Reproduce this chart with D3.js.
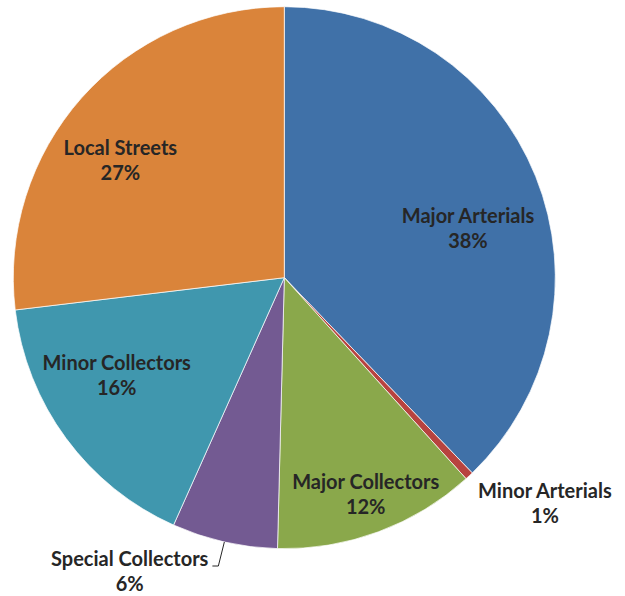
<!DOCTYPE html>
<html>
<head>
<meta charset="utf-8">
<script src="https://cdn.jsdelivr.net/npm/d3@7"></script>
<style>
  html, body { margin: 0; padding: 0; background: #fff; }
  svg { display: block; }
  .lbl { font-family: "Lato", "Open Sans", sans-serif; font-weight: 700; font-size: 20px; fill: #262626; }
</style>
</head>
<body>
<svg id="chart" width="625" height="596"></svg>
<script>
// Share of road network by functional class (percent)
const categories = ["Major Arterials", "Minor Arterials", "Major Collectors", "Special Collectors", "Minor Collectors", "Local Streets"];
const shares = [37.8, 0.5, 12.1, 6.3, 16.4, 26.9];
const shareLabels = ["38%", "1%", "12%", "6%", "16%", "27%"];
const colors = ["#4071A8", "#B8433F", "#8AA84B", "#735A92", "#4097AE", "#DA843A"];

// Label placement: distance from centre (fraction of radius) and angle (degrees, clockwise from top)
const labelRadius = [0.695, 1.29, 0.878, 1.248, 0.730, 0.728];
const labelAngle  = [77.2, 131.8, 160.0, 207.2, 237.9, 303.8];
const leader = [false, false, false, true, false, false];

const width = 625, height = 596;
const cx = 284.3, cy = 277.7, radius = 271;
const lineGap = 25;

const svg = d3.select("#chart");
const g = svg.append("g").attr("transform", `translate(${cx},${cy})`);

const pie = d3.pie().sort(null).value(d => d.value);
const arcs = pie(categories.map((c, i) => ({ name: c, value: shares[i], label: shareLabels[i], i })));
const arc = d3.arc().innerRadius(0).outerRadius(radius);

g.selectAll("path.slice")
  .data(arcs)
  .join("path")
  .attr("class", "slice")
  .attr("d", arc)
  .attr("fill", d => colors[d.data.i])
  .attr("stroke", "#ffffff")
  .attr("stroke-width", 0.7)
  .attr("stroke-linejoin", "round");

const toXY = (r, deg) => {
  const a = deg * Math.PI / 180;
  return [r * Math.sin(a), -r * Math.cos(a)];
};

const labels = g.selectAll("text.lbl")
  .data(arcs)
  .join("text")
  .attr("class", "lbl")
  .attr("text-anchor", "middle")
  .attr("transform", d => {
    const i = d.data.i;
    const [x, y] = toXY(radius * labelRadius[i], labelAngle[i]);
    return `translate(${x},${y})`;
  });

labels.append("tspan").attr("class", "name").attr("x", 0).attr("y", -lineGap / 2).text(d => d.data.name);
labels.append("tspan").attr("x", 0).attr("y", lineGap / 2).text(d => d.data.label);

// Leader lines for labels placed outside the pie
labels.each(function (d) {
  const i = d.data.i;
  if (!leader[i]) return;
  const mid = (d.startAngle + d.endAngle) / 2 * 180 / Math.PI;
  const [ex, ey] = toXY(radius, mid);
  const [lx, ly] = toXY(radius * labelRadius[i], labelAngle[i]);
  const w = d3.select(this).select("tspan.name").node().getComputedTextLength();
  const py = ly - lineGap / 2;
  const px = ex - 6;
  g.insert("polyline", "text")
    .attr("points", [[ex, ey], [px, py], [lx + w / 2 + 4, py]].map(p => p.join(",")).join(" "))
    .attr("fill", "none")
    .attr("stroke", "#262626")
    .attr("stroke-width", 1);
});
</script>
</body>
</html>
